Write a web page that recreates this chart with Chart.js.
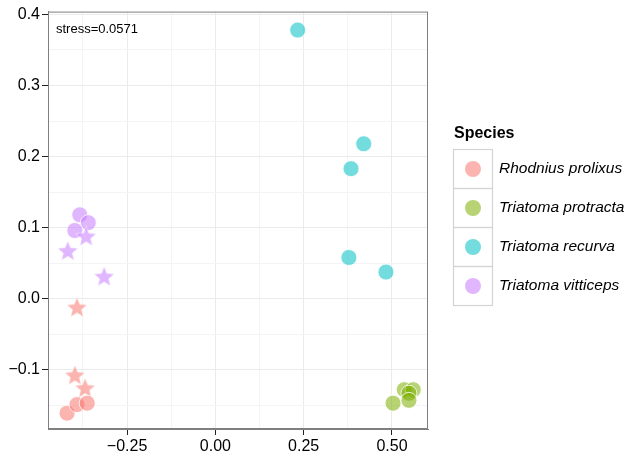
<!DOCTYPE html>
<html lang="en">
  <head>
    <meta charset="UTF-8" />
    <script src="https://cdn.jsdelivr.net/npm/chart.js@4.4.0/dist/chart.umd.min.js"></script>
    <title>NMDS species</title>
    <style>
      body {
        margin: 0;
        padding: 0;
        background: white;
      }

      .container {
        width: 640px;
        height: 458px;
      }
    </style>
  </head>
  <body>
    <div class="container">
      <canvas id="nmds"></canvas>
    </div>
    <script>
      const species = ['Rhodnius prolixus', 'Triatoma protracta', 'Triatoma recurva', 'Triatoma vitticeps']
      const colors = ['248, 118, 109', '124, 174, 0', '0, 191, 196', '199, 124, 255']

      const rhodniusX = [-0.392, -0.398, -0.369, -0.420, -0.392, -0.363]
      const rhodniusY = [-0.0125, -0.108, -0.126, -0.161, -0.149, -0.147]
      const rhodniusShape = ['star', 'star', 'star', 'circle', 'circle', 'circle']

      const protractaX = [0.503, 0.535, 0.560, 0.548, 0.548]
      const protractaY = [-0.147, -0.128, -0.128, -0.133, -0.143]
      const protractaShape = ['circle', 'circle', 'circle', 'circle', 'circle']

      const recurvaX = [0.233, 0.420, 0.384, 0.378, 0.483]
      const recurvaY = [0.378, 0.218, 0.183, 0.058, 0.0375]
      const recurvaShape = ['circle', 'circle', 'circle', 'circle', 'circle']

      const vitticepsX = [-0.384, -0.360, -0.398, -0.366, -0.418, -0.315]
      const vitticepsY = [0.118, 0.107, 0.096, 0.0875, 0.067, 0.031]
      const vitticepsShape = ['circle', 'circle', 'circle', 'star', 'star', 'star']

      const xTicks = [-0.25, 0, 0.25, 0.5]
      const yTicks = [-0.1, 0, 0.1, 0.2, 0.3, 0.4]

      const alpha = 0.55
      const font = '"Liberation Sans", Arial, sans-serif'

      const makeStar = (rgb) => {
        const c = document.createElement('canvas')
        c.width = 24
        c.height = 24
        const g = c.getContext('2d')
        g.beginPath()
        for (let i = 0; i < 10; i++) {
          const r = i % 2 === 0 ? 10.8 : 4.8
          const a = -Math.PI / 2 + (i * Math.PI) / 5
          g.lineTo(12 + r * Math.cos(a), 12.5 + r * Math.sin(a))
        }
        g.closePath()
        g.fillStyle = `rgba(${rgb}, ${alpha})`
        g.fill()
        g.strokeStyle = 'rgba(255, 255, 255, 0.7)'
        g.lineWidth = 0.8
        g.stroke()
        return c
      }

      const groups = [
        [rhodniusX, rhodniusY, rhodniusShape],
        [protractaX, protractaY, protractaShape],
        [recurvaX, recurvaY, recurvaShape],
        [vitticepsX, vitticepsY, vitticepsShape],
      ]

      const datasets = groups.map(([xs, ys, shapes], i) => {
        const star = makeStar(colors[i])
        return {
          label: species[i],
          data: xs.map((x, j) => ({ x, y: ys[j] })),
          pointStyle: shapes.map((s) => (s === 'star' ? star : 'circle')),
          pointRadius: 8,
          pointHoverRadius: 8,
          backgroundColor: `rgba(${colors[i]}, ${alpha})`,
          borderColor: 'rgba(255, 255, 255, 0.8)',
          borderWidth: 1,
        }
      })

      const near = (v, list) => list.some((t) => Math.abs(t - v) < 1e-6)
      const fmt = (v, d) => (v < 0 ? '\u2212' : '') + Math.abs(v).toFixed(d)

      const panel = {
        id: 'panel',
        afterDraw(chart) {
          const ctx = chart.ctx
          const a = chart.chartArea
          ctx.save()
          ctx.strokeStyle = '#7f7f7f'
          ctx.lineWidth = 1
          ctx.strokeRect(a.left + 0.5, a.top + 0.5, a.width - 1, a.height - 1)

          ctx.fillStyle = '#000'
          ctx.textBaseline = 'middle'
          ctx.font = '13px ' + font
          ctx.fillText('stress=0.0571', a.left + 8, a.top + 18)

          ctx.font = 'bold 16px ' + font
          ctx.fillText('Species', 454, 134)
          species.forEach((name, i) => {
            const top = 149 + i * 39
            ctx.strokeStyle = '#d4d4d4'
            ctx.lineWidth = 1.2
            ctx.strokeRect(453.5, top + 0.5, 39, 39)
            ctx.beginPath()
            ctx.arc(473, top + 20, 8, 0, 2 * Math.PI)
            ctx.fillStyle = `rgba(${colors[i]}, ${alpha})`
            ctx.fill()
            ctx.fillStyle = '#000'
            ctx.font = 'italic 15.5px ' + font
            ctx.fillText(name, 499, top + 20)
          })
          ctx.restore()
        },
      }

      new Chart(document.getElementById('nmds').getContext('2d'), {
        type: 'scatter',
        data: { datasets },
        plugins: [panel],
        options: {
          responsive: true,
          maintainAspectRatio: false,
          animation: false,
          layout: { padding: { top: 5, right: 212, left: 0, bottom: 0 } },
          plugins: {
            legend: { display: false },
            tooltip: { enabled: false },
          },
          scales: {
            x: {
              type: 'linear',
              min: -0.474,
              max: 0.602,
              afterFit: (scale) => {
                scale.height = 29
              },
              ticks: {
                stepSize: 0.125,
                includeBounds: false,
                autoSkip: false,
                maxRotation: 0,
                padding: 2,
                color: '#000',
                font: { family: font, size: 16 },
                callback: (v) => (near(v, xTicks) ? fmt(v, 2) : ''),
              },
              grid: {
                color: (c) => (near(c.tick.value, xTicks) ? '#ebebeb' : '#f4f4f4'),
                tickColor: (c) => (near(c.tick.value, xTicks) ? '#222' : 'rgba(0,0,0,0)'),
                tickLength: 6,
              },
              border: { color: '#7f7f7f' },
            },
            y: {
              type: 'linear',
              min: -0.1833,
              max: 0.404,
              afterFit: (scale) => {
                scale.width = 48
              },
              ticks: {
                stepSize: 0.05,
                includeBounds: false,
                autoSkip: false,
                padding: 2,
                color: '#000',
                font: { family: font, size: 16 },
                callback: (v) => (near(v, yTicks) ? fmt(v, 1) : ''),
              },
              grid: {
                color: (c) => (near(c.tick.value, yTicks) ? '#ebebeb' : '#f4f4f4'),
                tickColor: (c) => (near(c.tick.value, yTicks) ? '#222' : 'rgba(0,0,0,0)'),
                tickLength: 6,
              },
              border: { color: '#7f7f7f' },
            },
          },
        },
      })
    </script>
  </body>
</html>
